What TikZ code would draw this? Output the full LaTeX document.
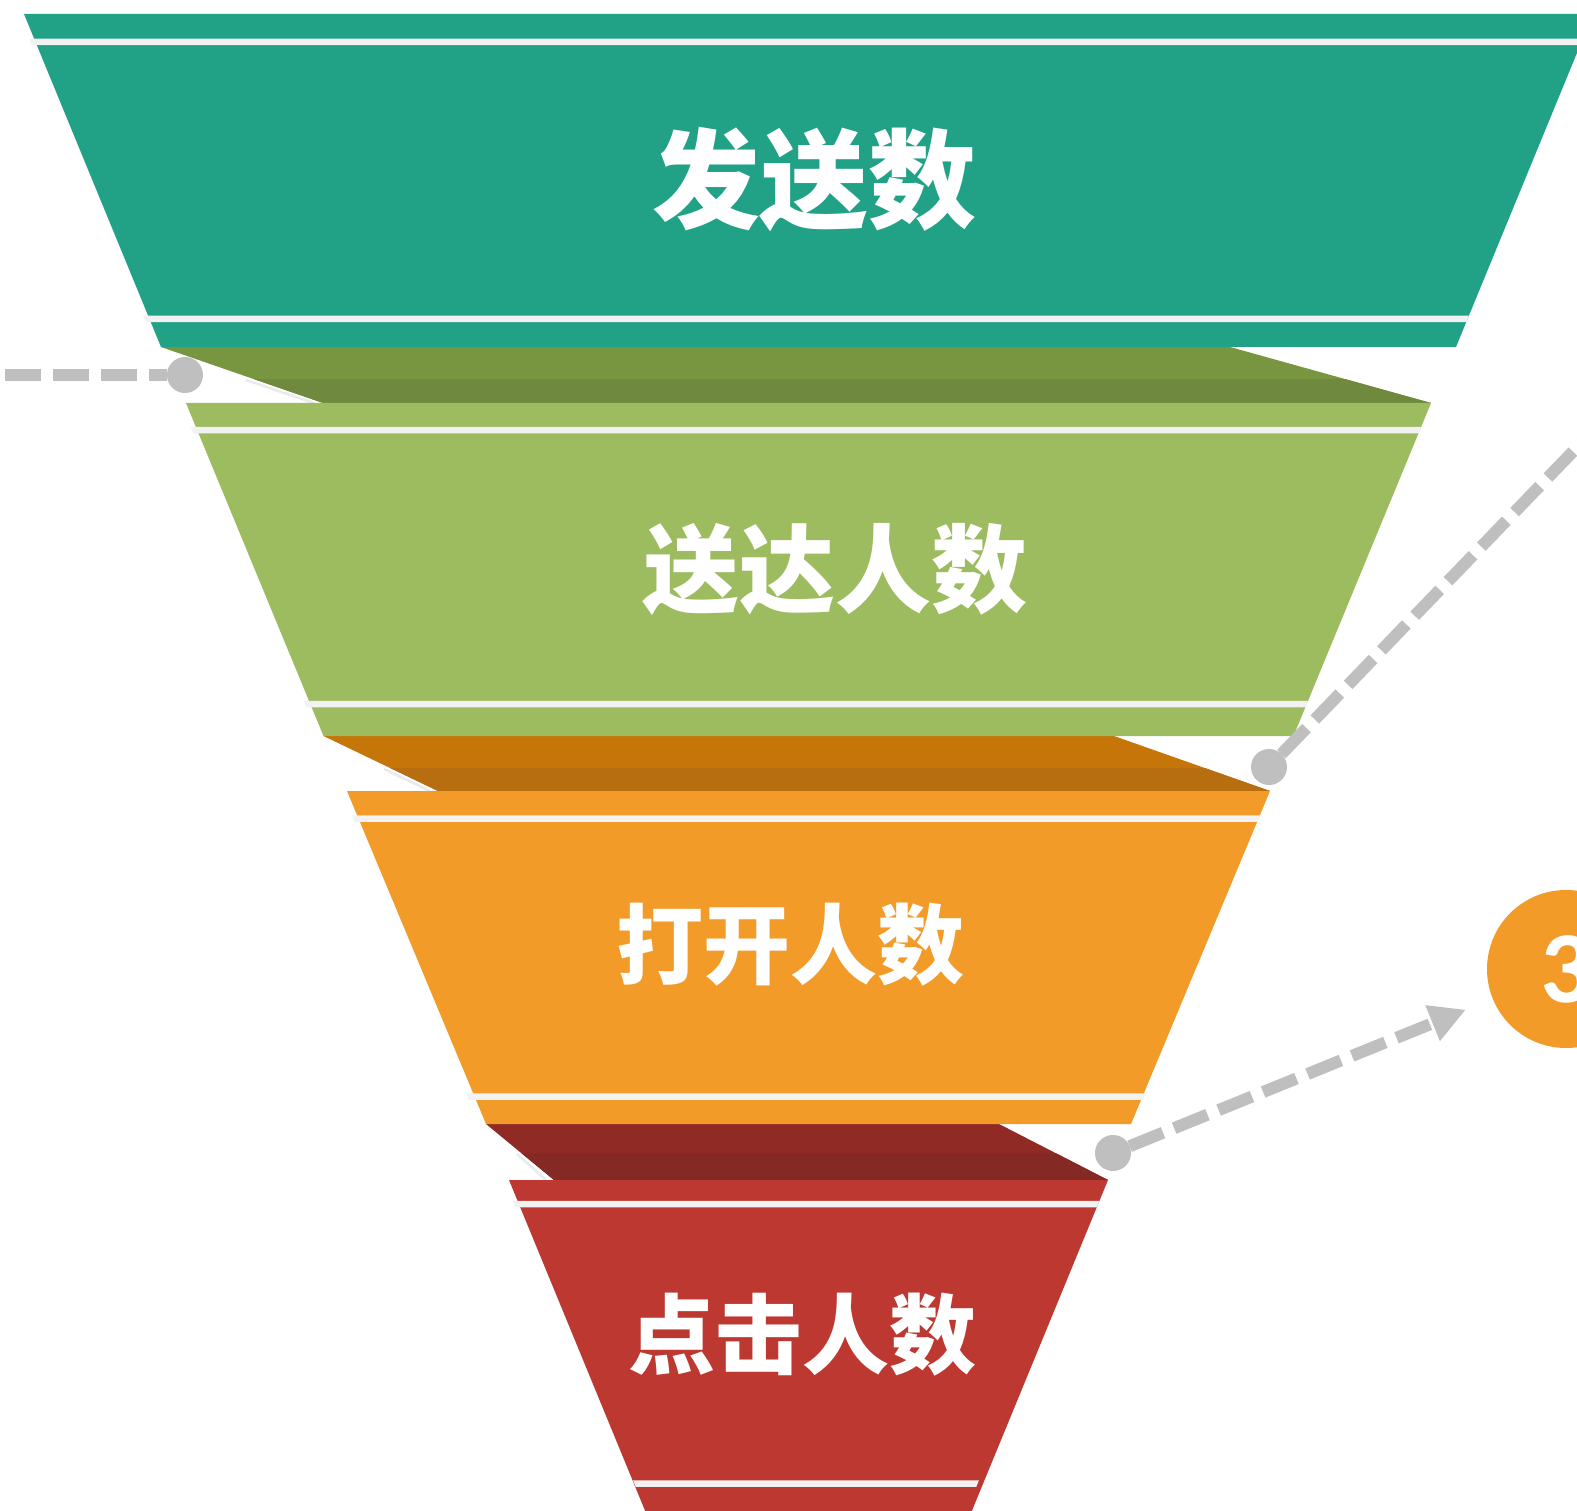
\documentclass[tikz,border=0pt]{standalone}
\usepackage{fontspec}
\newfontfamily\cjk{Noto Sans CJK SC}
\newfontfamily\numfont{Carlito}
\usetikzlibrary{arrows.meta}
\definecolor{tealc}{HTML}{21A186}
\definecolor{greenc}{HTML}{9DBB5F}
\definecolor{orangec}{HTML}{F29B29}
\definecolor{redc}{HTML}{BD3830}
\definecolor{oliveA}{HTML}{78963F}
\definecolor{oliveB}{HTML}{6F893E}
\definecolor{amberA}{HTML}{C67509}
\definecolor{amberB}{HTML}{B76E11}
\definecolor{maroonA}{HTML}{8F2A24}
\definecolor{maroonB}{HTML}{852924}
\definecolor{dashgray}{HTML}{BFBFBF}
\definecolor{stripe}{HTML}{F2F2F2}
\definecolor{shade}{HTML}{EAEAEA}
\tikzset{
  stripeline/.style={fill=stripe},
  label/.style={text=white, inner sep=0pt, font=\cjk\bfseries},
  dot/.style={circle, fill=dashgray, minimum size=36pt, inner sep=0pt, outer sep=0pt},
  dashline/.style={draw=dashgray, line width=12pt, dash pattern=on 36pt off 12pt},
  shadeline/.style={draw=shade, line width=2.5pt},
}
% #1 = segment top y, #2 = half width at top, #3 = stripe centre y
\newcommand\stripeat[3]{%
  \pgfmathsetmacro\sya{#3-3.25}\pgfmathsetmacro\syb{#3+3.25}%
  \pgfmathsetmacro\sha{#2-0.4114*(\sya-#1)}\pgfmathsetmacro\shb{#2-0.4114*(\syb-#1)}%
  \fill[stripeline] (808.5-\sha-5,\sya) -- (808.5+\sha,\sya) -- (808.5+\shb,\syb) -- (808.5-\shb-5,\syb) -- cycle;}
\begin{document}
\begin{tikzpicture}[x=1pt,y=-1pt]
\useasboundingbox (0,0) rectangle (1577,1511);
\clip (0,0) rectangle (1577,1511);
\fill[white] (0,0) rectangle (1577,1511);

% connector bands
\begin{scope}
  \clip (161,347) -- (1230,347) -- (1431,403) -- (323,403) -- cycle;
  \fill[oliveA] (100,347) rectangle (1500,403);
  \fill[oliveB] (100,379) rectangle (1500,403);
\end{scope}
\draw[shadeline] (246,380) -- (314,403);
\begin{scope}
  \clip (323.5,736) -- (1114,736) -- (1270,791) -- (438,791) -- cycle;
  \fill[amberA] (300,736) rectangle (1300,791);
  \fill[amberB] (300,768) rectangle (1300,791);
\end{scope}
\draw[shadeline] (384,769) -- (430,791);
\begin{scope}
  \clip (486,1124) -- (999,1124) -- (1108,1180) -- (554,1180) -- cycle;
  \fill[maroonA] (450,1124) rectangle (1150,1180);
  \fill[maroonB] (450,1153) rectangle (1150,1180);
\end{scope}
\draw[shadeline] (517,1154) -- (546,1180);

% funnel segments
\fill[tealc] (24,14) -- (1593,14) -- (1456,347) -- (161,347) -- cycle;
\fill[greenc] (186,403) -- (1431,403) -- (1293.5,736) -- (323.5,736) -- cycle;
\fill[orangec] (347,791) -- (1270,791) -- (1131,1124) -- (486,1124) -- cycle;
\fill[redc] (509,1180) -- (1108,1180) -- (971,1513) -- (646,1513) -- cycle;

% stripes
\stripeat{14}{784.5}{42}
\stripeat{14}{784.5}{319}
\stripeat{403}{622.5}{430}
\stripeat{403}{622.5}{704}
\stripeat{791}{461.5}{818.5}
\stripeat{791}{461.5}{1096.5}
\stripeat{1180}{299.5}{1204}
\stripeat{1180}{294}{1483.5}

% labels
\node[label, font=\cjk\bfseries\fontsize{108}{108}\selectfont] (t1) at (814.5,180) {发送数};
\node[label, font=\cjk\bfseries\fontsize{96}{96}\selectfont] (t2) at (835.5,569.5) {送达人数};
\node[label, font=\cjk\bfseries\fontsize{87}{87}\selectfont] (t3) at (790,944.5) {打开人数};
\node[label, font=\cjk\bfseries\fontsize{87}{87}\selectfont] (t4) at (802.5,1334.5) {点击人数};

% callout dots and connectors
\node[dot] (dot1) at (185,375) {};
\node[dot] (dot2) at (1269,767) {};
\node[dot] (dot3) at (1113,1153) {};
\node[circle, fill=orangec, minimum size=158pt, inner sep=0pt, outer sep=0pt,
      text=white, font=\numfont\bfseries\fontsize{102}{102}\selectfont] (num3) at (1566,969) {\raisebox{-3pt}{3}};
\coordinate (lstart) at (5,375);
\coordinate (dend) at (1639,383);
\draw[dashline] (lstart) -- (dot1);
\draw[dashline] (dot2) -- (dend);
\draw[dashline, -{Triangle[length=36pt,width=36pt]}, shorten >=29pt] (dot3) -- (num3);
\end{tikzpicture}
\end{document}
